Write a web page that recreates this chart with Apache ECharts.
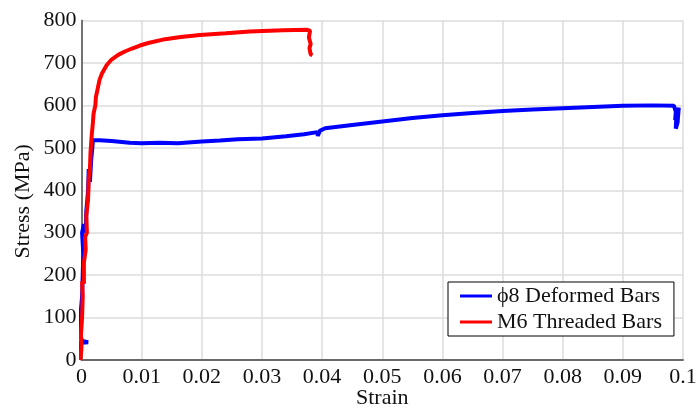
<!DOCTYPE html>
<html><head><meta charset="utf-8">
<script src="https://cdn.jsdelivr.net/npm/echarts@6/dist/echarts.min.js"></script>
<style>html,body{margin:0;padding:0;background:#fff}#c{width:700px;height:409px}</style>
</head><body><div id="c"></div>
<script>
const xTicks = [0,0.01,0.02,0.03,0.04,0.05,0.06,0.07,0.08,0.09,0.1];
const yTicks = [0,100,200,300,400,500,600,700,800];
const seriesNames = ['\u03d58 Deformed Bars','M6 Threaded Bars'];
const deformedStrain = [-0.0008,-0.0006,-0.0005,-0.0004,0.0011,0.0001,-0.0005,-0.0002,0.0001,0.0002,0.0003,0.0001,0.0004,0.0007,0.0008,0.0011,0.0012,0.0014,0.0016,0.0018,0.0019,0.0022,0.003,0.005,0.008,0.010,0.013,0.016,0.020,0.023,0.026,0.030,0.034,0.037,0.0392,0.0393,0.0396,0.0405,0.045,0.050,0.055,0.060,0.065,0.070,0.075,0.080,0.085,0.090,0.095,0.0985,0.0988,0.0987,0.0989,0.0988,0.0991,0.0993];
const deformedStress = [0,5,20,40,42,45,70,100,150,200,250,300,320,300,350,400,450,420,470,500,518,520,518,516,512,511,512,511,515,517,520,522,527,532,537,528,540,546,554,562,570,577,582,587,590,593,596,599,600,599,585,565,575,545,560,595];
const threadedStrain = [-0.0002,0.0000,-0.0001,0.0001,0.0002,0.0001,0.0004,0.0004,0.0007,0.0006,0.0009,0.0008,0.0011,0.0012,0.0014,0.0015,0.0017,0.0019,0.0020,0.0023,0.0024,0.0027,0.0030,0.0034,0.0042,0.0050,0.0061,0.0072,0.0084,0.0097,0.0111,0.0139,0.0165,0.0197,0.0240,0.0280,0.0335,0.0375,0.0380,0.0378,0.0381,0.0379,0.0381,0.0384];
const threadedStress = [0,30,60,100,150,185,180,230,260,290,300,340,380,430,450,490,530,560,580,600,620,640,660,675,695,708,719,727,734,741,747,756,761,766,770,774,777,778,776,760,745,735,720,718];

const zip = (a,b) => a.map((v,i)=>[v,b[i]]);
const font = 'Liberation Serif';
const fs = 22;
const chart = echarts.init(document.getElementById('c'));
chart.setOption({
  animation:false,
  grid:{left:81.5,right:17,top:20.5,bottom:49,outerBoundsMode:'none',containLabel:false},
  xAxis:[{type:'value',min:0,max:0.1,interval:0.01,name:'Strain',nameLocation:'middle',nameGap:27,nameMoveOverlap:false,
    nameTextStyle:{fontFamily:font,fontSize:fs,color:'#111'},
    axisLine:{lineStyle:{color:'#aaa',width:2}},axisTick:{show:false},
    axisLabel:{fontFamily:font,fontSize:fs,color:'#111',margin:6,formatter:v=>String(+v.toFixed(2))},
    splitLine:{lineStyle:{color:'#ddd',width:1.5}}},
    {type:'value',position:'top',min:0,max:0.1,interval:0.01,axisLine:{show:true,lineStyle:{color:'#555',width:1.5}},
     axisTick:{show:false},axisLabel:{show:false},splitLine:{show:false}}],
  yAxis:[{type:'value',min:0,max:800,interval:100,name:'Stress (MPa)',nameLocation:'middle',nameGap:47,nameMoveOverlap:false,
    nameTextStyle:{fontFamily:font,fontSize:fs,color:'#111',padding:[0,22,0,0]},
    axisLine:{show:true,lineStyle:{color:'#ccc',width:2}},axisTick:{show:false},
    axisLabel:{fontFamily:font,fontSize:fs,color:'#111',margin:5},
    splitLine:{lineStyle:{color:'#ddd',width:1.5}}},
    {type:'value',position:'right',min:0,max:800,interval:100,axisLine:{show:true,lineStyle:{color:'#555',width:1.5}},
     axisTick:{show:false},axisLabel:{show:false},splitLine:{show:false}}],
  legend:{orient:'vertical',left:448,top:282,itemWidth:32,itemHeight:3,icon:'rect',itemGap:4,
    padding:[3,12,3,12],borderColor:'#000',borderWidth:1,backgroundColor:'#fff',
    textStyle:{fontFamily:font,fontSize:fs,color:'#111'},
    data:seriesNames},
  series:[
    {name:seriesNames[0],type:'line',data:zip(deformedStrain,deformedStress),showSymbol:false,clip:false,
     lineStyle:{color:'#0000ff',width:4},itemStyle:{color:'#0000ff'}},
    {name:seriesNames[1],type:'line',data:zip(threadedStrain,threadedStress),showSymbol:false,clip:false,
     lineStyle:{color:'#ff0000',width:4},itemStyle:{color:'#ff0000'}}
  ]
});
</script></body></html>
